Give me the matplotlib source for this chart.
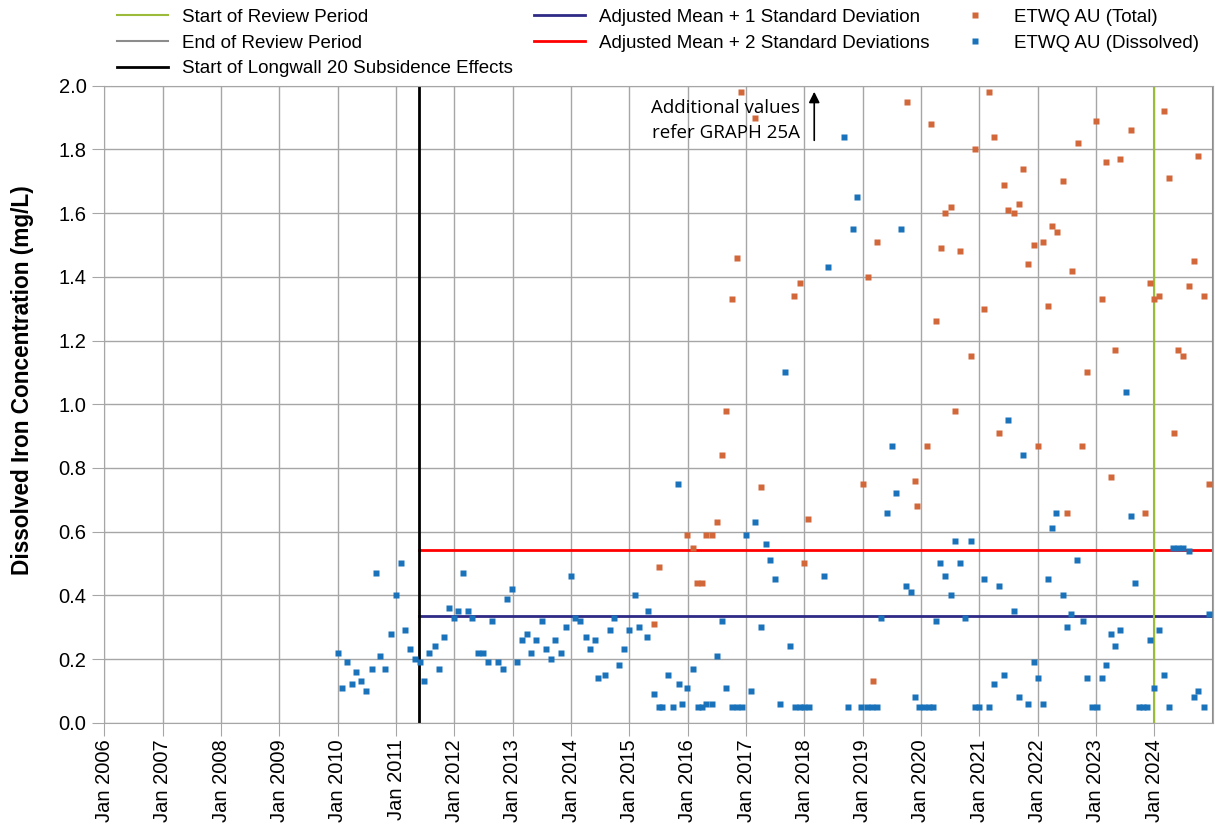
import matplotlib
matplotlib.use("Agg")
import matplotlib.pyplot as plt
from matplotlib.lines import Line2D

plt.rcParams['font.family'] = ['Liberation Sans', 'DejaVu Sans']

# sample times as decimal years, values in mg/L
dissolved_t = [
    2010.00, 2010.08, 2010.15, 2010.24, 2010.32, 2010.39, 2010.48, 2010.58, 2010.66, 2010.73,
    2010.81, 2010.92, 2011.00, 2011.08, 2011.15, 2011.23, 2011.32, 2011.41, 2011.48, 2011.56,
    2011.66, 2011.74, 2011.82, 2011.90, 2011.99, 2012.07, 2012.15, 2012.23, 2012.31, 2012.40,
    2012.49, 2012.57, 2012.65, 2012.75, 2012.83, 2012.91, 2012.99, 2013.08, 2013.16, 2013.24,
    2013.32, 2013.40, 2013.50, 2013.57, 2013.65, 2013.73, 2013.83, 2013.91, 2014.00, 2014.07,
    2014.16, 2014.25, 2014.33, 2014.41, 2014.47, 2014.58, 2014.66, 2014.74, 2014.82, 2014.91,
    2015.00, 2015.09, 2015.16, 2015.32, 2015.30, 2015.42, 2015.50, 2015.56, 2015.67, 2015.75,
    2015.83, 2015.85, 2015.91, 2015.99, 2016.09, 2016.17, 2016.24, 2016.31, 2016.41, 2016.50,
    2016.59, 2016.65, 2016.76, 2016.84, 2016.93, 2017.00, 2017.09, 2017.15, 2017.25, 2017.34,
    2017.41, 2017.49, 2017.58, 2017.67, 2017.75, 2017.84, 2017.92, 2018.00, 2018.08, 2018.34,
    2018.41, 2018.68, 2018.75, 2018.83, 2018.90, 2018.98, 2019.07, 2019.16, 2019.25, 2019.32,
    2019.42, 2019.50, 2019.58, 2019.65, 2019.75, 2019.83, 2019.90, 2019.96, 2020.05, 2020.13,
    2020.20, 2020.26, 2020.33, 2020.42, 2020.51, 2020.59, 2020.67, 2020.75, 2020.85, 2020.92,
    2021.00, 2021.08, 2021.17, 2021.26, 2021.34, 2021.42, 2021.50, 2021.59, 2021.68, 2021.75,
    2021.84, 2021.93, 2022.01, 2022.09, 2022.17, 2022.24, 2022.32, 2022.43, 2022.50, 2022.57,
    2022.68, 2022.77, 2022.84, 2022.93, 2023.01, 2023.10, 2023.18, 2023.26, 2023.33, 2023.42,
    2023.51, 2023.60, 2023.67, 2023.73, 2023.81, 2023.87, 2023.93, 2024.00, 2024.08, 2024.16,
    2024.26, 2024.32, 2024.41, 2024.50, 2024.59, 2024.68, 2024.75, 2024.86, 2024.94,
]
dissolved_v = [
    0.22, 0.11, 0.19, 0.12, 0.16, 0.13, 0.10, 0.17, 0.47, 0.21,
    0.17, 0.28, 0.40, 0.50, 0.29, 0.23, 0.20, 0.19, 0.13, 0.22,
    0.24, 0.17, 0.27, 0.36, 0.33, 0.35, 0.47, 0.35, 0.33, 0.22,
    0.22, 0.19, 0.32, 0.19, 0.17, 0.39, 0.42, 0.19, 0.26, 0.28,
    0.22, 0.26, 0.32, 0.23, 0.20, 0.26, 0.22, 0.30, 0.46, 0.33,
    0.32, 0.27, 0.23, 0.26, 0.14, 0.15, 0.29, 0.33, 0.18, 0.23,
    0.29, 0.40, 0.30, 0.35, 0.27, 0.09, 0.05, 0.05, 0.15, 0.05,
    0.75, 0.12, 0.06, 0.11, 0.17, 0.05, 0.05, 0.06, 0.06, 0.21,
    0.32, 0.11, 0.05, 0.05, 0.05, 0.59, 0.10, 0.63, 0.30, 0.56,
    0.51, 0.45, 0.06, 1.10, 0.24, 0.05, 0.05, 0.05, 0.05, 0.46,
    1.43, 1.84, 0.05, 1.55, 1.65, 0.05, 0.05, 0.05, 0.05, 0.33,
    0.66, 0.87, 0.72, 1.55, 0.43, 0.41, 0.08, 0.05, 0.05, 0.05,
    0.05, 0.32, 0.50, 0.46, 0.40, 0.57, 0.50, 0.33, 0.57, 0.05,
    0.05, 0.45, 0.05, 0.12, 0.43, 0.15, 0.95, 0.35, 0.08, 0.84,
    0.06, 0.19, 0.14, 0.06, 0.45, 0.61, 0.66, 0.40, 0.30, 0.34,
    0.51, 0.32, 0.14, 0.05, 0.05, 0.14, 0.18, 0.28, 0.24, 0.29,
    1.04, 0.65, 0.44, 0.05, 0.05, 0.05, 0.26, 0.11, 0.29, 0.15,
    0.05, 0.55, 0.55, 0.55, 0.54, 0.08, 0.10, 0.05, 0.34,
]

total_t = [
    2015.42, 2015.50, 2015.99, 2016.09, 2016.16, 2016.24, 2016.31, 2016.42, 2016.50, 2016.58,
    2016.65, 2016.76, 2016.84, 2016.92, 2017.15, 2017.25, 2017.83, 2017.92, 2018.00, 2018.07,
    2019.00, 2019.09, 2019.17, 2019.25, 2019.76, 2019.89, 2019.93, 2020.10, 2020.18, 2020.26,
    2020.34, 2020.42, 2020.52, 2020.59, 2020.67, 2020.85, 2020.92, 2021.08, 2021.17, 2021.26,
    2021.34, 2021.42, 2021.50, 2021.60, 2021.68, 2021.75, 2021.83, 2021.93, 2022.01, 2022.09,
    2022.17, 2022.24, 2022.33, 2022.43, 2022.51, 2022.59, 2022.69, 2022.76, 2022.84, 2023.00,
    2023.10, 2023.18, 2023.26, 2023.33, 2023.42, 2023.60, 2023.84, 2023.93, 2024.00, 2024.08,
    2024.16, 2024.26, 2024.34, 2024.41, 2024.49, 2024.59, 2024.69, 2024.75, 2024.86, 2024.94,
]
total_v = [
    0.31, 0.49, 0.59, 0.55, 0.44, 0.44, 0.59, 0.59, 0.63, 0.84,
    0.98, 1.33, 1.46, 1.98, 1.90, 0.74, 1.34, 1.38, 0.50, 0.64,
    0.75, 1.40, 0.13, 1.51, 1.95, 0.76, 0.68, 0.87, 1.88, 1.26,
    1.49, 1.60, 1.62, 0.98, 1.48, 1.15, 1.80, 1.30, 1.98, 1.84,
    0.91, 1.69, 1.61, 1.60, 1.63, 1.74, 1.44, 1.50, 0.87, 1.51,
    1.31, 1.56, 1.54, 1.70, 0.66, 1.42, 1.82, 0.87, 1.10, 1.89,
    1.33, 1.76, 0.77, 1.17, 1.77, 1.86, 0.66, 1.38, 1.33, 1.34,
    1.92, 1.71, 0.91, 1.17, 1.15, 1.37, 1.45, 1.78, 1.34, 0.75,
]

mean_1sd = 0.336
mean_2sd = 0.543
longwall_start = 2011.40
review_start = 2024.0
review_end = 2024.999
years = list(range(2006, 2025))
tick_labels = [f"Jan {y}" for y in years]

c_total = '#d2683a'
c_diss = '#1a72bb'
c_1sd = '#2e2a86'
c_2sd = '#ff0000'
c_start = '#9cbb3a'
c_end = '#8c8c8c'

fig = plt.figure(figsize=(12.15, 8.25), dpi=100)
ax = fig.add_axes([0.086, 0.124, 0.912, 0.772])

ax.set_xlim(2006, 2025)
ax.set_ylim(0, 2.0)
ax.set_xticks(years)
ax.set_xticklabels(tick_labels, rotation=90, fontsize=14.5)
ax.set_yticks([i / 10 for i in range(0, 21, 2)])
ax.set_yticklabels([f"{i / 10:.1f}" for i in range(0, 21, 2)], fontsize=14.5)
ax.grid(True, color='#a6a6a6', linewidth=1)
ax.set_axisbelow(True)
for s in ax.spines.values():
    s.set_color('#a6a6a6')
ax.tick_params(color='#a6a6a6', length=9, pad=4)
ax.tick_params(axis='x', pad=3)
ax.set_ylabel("Dissolved Iron Concentration (mg/L)", fontsize=16.3, fontweight='bold')
ax.yaxis.set_label_coords(-0.0636, 0.538)

ax.axhline(mean_1sd, xmin=(longwall_start - 2006) / 19, color=c_1sd, lw=2)
ax.axhline(mean_2sd, xmin=(longwall_start - 2006) / 19, color=c_2sd, lw=2)
ax.axvline(longwall_start, color='black', lw=2)
ax.axvline(review_start, color=c_start, lw=1.5)
ax.axvline(review_end, color=c_end, lw=1.5)

ax.plot(total_t, total_v, 's', color=c_total, ms=5, mec='none', zorder=3)
ax.plot(dissolved_t, dissolved_v, 's', color=c_diss, ms=5, mec='none', zorder=4)

ax.annotate('', xy=(2018.17, 1.99), xytext=(2018.17, 1.82),
            arrowprops=dict(arrowstyle='-|>', color='black', lw=1.2, mutation_scale=16))
ax.text(2017.93, 1.89, "Additional values\nrefer GRAPH 25A", ha='right', va='center',
        fontsize=13.5, family='Open Sans', linespacing=1.5)

entries = [
    [(Line2D([], [], color=c_start, lw=1.5), "Start of Review Period"),
     (Line2D([], [], color=c_end, lw=1.5), "End of Review Period"),
     (Line2D([], [], color='black', lw=2), "Start of Longwall 20 Subsidence Effects")],
    [(Line2D([], [], color=c_1sd, lw=2), "Adjusted Mean + 1 Standard Deviation"),
     (Line2D([], [], color=c_2sd, lw=2), "Adjusted Mean + 2 Standard Deviations")],
    [(Line2D([], [], marker='s', ls='none', color=c_total, ms=4, mec='none'), "ETWQ AU (Total)"),
     (Line2D([], [], marker='s', ls='none', color=c_diss, ms=4, mec='none'), "ETWQ AU (Dissolved)")],
]
col_x = [0.0963, 0.4395, 0.7815]
for x0, col in zip(col_x, entries):
    leg = fig.legend([h for h, _ in col], [l for _, l in col], loc='upper left',
                     bbox_to_anchor=(x0, 0.9897), frameon=False, fontsize=13.5,
                     handlelength=2.7, handletextpad=0.75, labelspacing=0.47,
                     borderpad=0, borderaxespad=0)

fig.savefig('out.png', dpi=100)
